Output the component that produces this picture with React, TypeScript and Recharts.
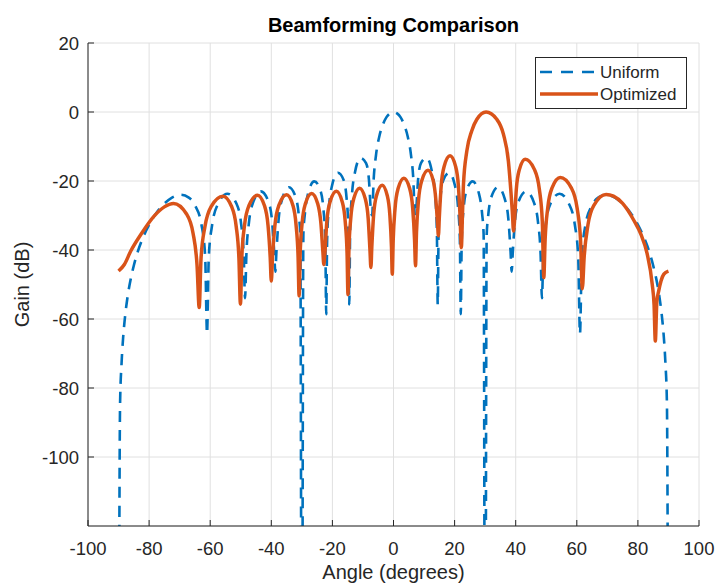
import { CartesianGrid, Label, Line, LineChart, XAxis, YAxis } from 'recharts';

const FONT = '"Liberation Sans", Arial, Helvetica, sans-serif';
const INK = '#262626';
const UNIFORM_COLOR = '#0072BD';
const OPTIMIZED_COLOR = '#D95319';

const xTicks = [-100, -80, -60, -40, -20, 0, 20, 40, 60, 80, 100];
const yTicks = [-100, -80, -60, -40, -20, 0, 20];

// [angle in degrees, gain in dB]
const uniformPattern: [number, number][] = [
    [-90, -200], [-89.5, -84.5], [-89, -72.6], [-88.5, -65.4], [-88, -60.4], [-87, -53.3], [-86, -48.3],
    [-85, -44.5], [-84, -41.3], [-82, -36.4], [-80.06, -32.8], [-77.5, -29.1], [-75.6, -27.1], [-72.5, -24.8],
    [-69.64, -24.0], [-67, -24.8], [-65, -27.0], [-62.87, -32.6], [-61.64, -42.0], [-61.04, -64.3],
    [-60.46, -41.9], [-59.32, -32.5], [-57.53, -26.8], [-54.34, -23.7], [-51.38, -26.6], [-49.91, -32.2],
    [-49.03, -41.5], [-48.59, -54.0], [-48.16, -41.4], [-47.31, -32.0], [-45.95, -26.2], [-43.43, -23.0],
    [-41.01, -25.8], [-39.79, -31.3], [-39.05, -40.6], [-38.68, -46.3], [-38.32, -40.5], [-37.59, -31.0],
    [-36.42, -25.2], [-34.23, -21.8], [-32.09, -24.5], [-31, -30.0], [-30.5, -35.7], [-30, -200],
    [-29.5, -35.4], [-29.01, -29.5], [-27.95, -23.6], [-25.94, -20.1], [-23.97, -22.6], [-22.95, -28.0],
    [-22.33, -37.1], [-22.02, -58.6], [-21.72, -36.9], [-21.1, -27.3], [-20.11, -21.3], [-18.21, -17.6],
    [-16.33, -19.7], [-15.37, -24.9], [-14.77, -33.9], [-14.48, -55.8], [-14.18, -33.6], [-13.59, -23.9],
    [-12.64, -17.6], [-10.81, -13.3], [-8.99, -14.8], [-8.05, -19.5], [-7.5, -27.4], [-7, -30],
    [-6.5, -19.7], [-5.74, -12.6], [-4.59, -6.9], [-3.44, -3.6], [-2.29, -1.5], [-1.15, -0.4],
    [0, 0],
    [1.15, -0.4], [2.29, -1.5], [3.44, -3.6], [4.59, -6.9], [5.74, -12.6], [6.5, -19.7], [7, -30],
    [7.5, -27.4], [8.05, -19.5], [8.99, -14.8], [10.81, -13.3], [12.64, -17.6], [13.59, -23.9],
    [14.18, -33.6], [14.48, -55.8], [14.77, -33.9], [15.37, -24.9], [16.33, -19.7], [18.21, -17.6],
    [20.11, -21.3], [21.1, -27.3], [21.72, -36.9], [22.02, -58.6], [22.33, -37.1], [22.95, -28.0],
    [23.97, -22.6], [25.94, -20.1], [27.95, -23.6], [29.01, -29.5], [29.5, -35.4], [30, -200],
    [30.5, -35.7], [31, -30.0], [32.09, -24.5], [34.23, -21.8], [36.42, -25.2], [37.59, -31.0],
    [38.32, -40.5], [38.68, -46.3], [39.05, -40.6], [39.79, -31.3], [41.01, -25.8], [43.43, -23.0],
    [45.95, -26.2], [47.31, -32.0], [48.16, -41.4], [48.59, -54.0], [49.03, -41.5], [49.91, -32.2],
    [51.38, -26.6], [54.34, -23.7], [57.53, -26.8], [59.32, -32.5], [60.46, -41.9], [61.04, -64.3],
    [61.64, -42.0], [62.87, -32.6], [65, -27.0], [67, -24.8], [69.64, -24.0], [72.5, -24.8], [75.6, -27.1],
    [77.5, -29.1], [80.06, -32.8], [82, -36.4], [84, -41.3], [85, -44.5], [86, -48.3], [87, -53.3],
    [88, -60.4], [88.5, -65.4], [89, -72.6], [89.5, -84.5], [90, -200],
];

const optimizedPattern: [number, number][] = [
    [-90, -46.1], [-88.1, -44.2], [-86, -40.3], [-82.7, -35.5], [-78.3, -30.1], [-75, -27.5], [-72, -26.5],
    [-67.8, -29.5], [-65.6, -35.2], [-64.3, -44.5], [-63.6, -56.7],
    [-63, -42.4], [-61.7, -33.1], [-59.7, -27.4], [-55.8, -24.4], [-53, -27.4], [-51.5, -33.1], [-50.6, -42.4],
    [-50.1, -55.7],
    [-49.65, -42.1], [-48.76, -32.8], [-47.3, -27.1], [-44.5, -24.1], [-42.25, -27.1], [-41.08, -32.8],
    [-40.36, -42.1], [-40, -49],
    [-39.6, -42], [-38.8, -32.7], [-37.5, -27], [-35, -24], [-32.95, -27], [-31.9, -32.7], [-31.23, -42],
    [-30.9, -53.3],
    [-30.57, -41.6], [-29.92, -32.3], [-28.85, -26.6], [-26.8, -23.6], [-24.8, -26.6], [-23.76, -32.3],
    [-23.12, -40.5], [-22.8, -44.2],
    [-22.47, -41], [-21.82, -31.7], [-20.75, -26], [-18.7, -23], [-16.8, -26], [-15.81, -31.7], [-15.2, -41],
    [-14.9, -52.9],
    [-14.6, -40.1], [-13.99, -30.8], [-13, -25.1], [-11.1, -22.1], [-9.25, -25.1], [-8.29, -30.8],
    [-7.7, -40.1], [-7.4, -45.1],
    [-7.1, -39.2], [-6.51, -29.9], [-5.55, -24.2], [-3.7, -21.2], [-2.05, -24.2], [-1.19, -29.9],
    [-0.66, -39.2], [-0.4, -47],
    [-0.1, -37.2], [0.51, -27.9], [1.5, -22.2], [3.4, -19.2], [5.3, -22.2], [6.29, -27.9], [6.9, -37.2],
    [7.2, -44.6],
    [7.53, -34.9], [8.18, -25.6], [9.25, -19.9], [11.3, -16.9], [13, -19.9], [13.88, -25.6], [14.43, -32.5],
    [14.7, -35.9],
    [15, -30.5], [15.61, -21.4], [16.6, -15.7], [18.5, -12.7], [20.3, -15.7], [21.24, -21.4], [21.81, -30.7],
    [22.2, -39.3],
    [22.6, -29], [22.9, -21], [24, -11.3], [25.6, -5.5], [27.3, -2.1], [30.3, 0], [33.8, -2.1], [36, -6.5],
    [37.6, -14.2], [38.5, -23.9], [38.9, -29], [39.3, -34.5],
    [39.6, -31.7], [40.2, -22.4], [41.2, -16.7], [43.1, -13.7], [46.15, -16.7], [47.74, -22.4],
    [48.71, -31.7], [49.2, -48],
    [49.63, -37], [50.5, -27.7], [51.9, -22], [54.6, -19], [58.2, -22], [60.07, -27.7], [61.22, -37],
    [61.8, -51.2],
    [62.42, -41.9], [63.67, -32.6], [65.7, -26.9], [69.6, -23.9], [72, -24.4], [75, -26.5], [78.6, -31.3],
    [81, -35.5], [83, -41], [84.7, -50], [85.3, -56], [85.7, -66.4], [86.2, -55], [86.8, -51.9], [88.5, -47],
    [90, -46.1],
];

const seriesNames = ['Uniform', 'Optimized'];

const toRows = (pattern: [number, number][]) => pattern.map(([angle, gain]) => ({ angle, gain }));

const uniformData = toRows(uniformPattern);
const optimizedData = toRows(optimizedPattern);

const tickStyle = { fill: INK, fontSize: 18.5, fontFamily: FONT };
const labelStyle = { fill: INK, fontSize: 20, fontFamily: FONT };

function LegendBox() {
    return (
        <svg width={153} height={53} style={{ position: 'absolute', left: 535, top: 57 }}>
            <rect x={0.5} y={0.5} width={151} height={51} fill="#fff" stroke={INK} strokeWidth={1} />
            <line x1={5} y1={15} x2={63} y2={15} stroke={UNIFORM_COLOR} strokeWidth={2.5} strokeDasharray="12 9" />
            <text x={65} y={15} dominantBaseline="central" fontSize={17} fontFamily={FONT} fill={INK}>
                {seriesNames[0]}
            </text>
            <line x1={5} y1={37} x2={63} y2={37} stroke={OPTIMIZED_COLOR} strokeWidth={3.5} />
            <text x={65} y={37} dominantBaseline="central" fontSize={17} fontFamily={FONT} fill={INK}>
                {seriesNames[1]}
            </text>
        </svg>
    );
}

export default function App() {
    return (
        <div style={{ position: 'absolute', left: 0, top: 0, width: 717, height: 584, background: '#fff' }}>
            <div
                style={{
                    position: 'absolute',
                    left: 88,
                    width: 611,
                    top: 14,
                    textAlign: 'center',
                    fontFamily: FONT,
                    fontWeight: 'bold',
                    fontSize: 20,
                    lineHeight: '22px',
                    color: '#000',
                }}
            >
                Beamforming Comparison
            </div>
            <LineChart width={717} height={584} margin={{ top: 43, right: 18, bottom: 0, left: 0 }}>
                <CartesianGrid stroke="#e0e0e0" strokeWidth={1} />
                <Line
                    data={uniformData}
                    dataKey="gain"
                    name={seriesNames[0]}
                    type="monotone"
                    stroke={UNIFORM_COLOR}
                    strokeWidth={2.6}
                    strokeDasharray="11 8"
                    dot={false}
                    activeDot={false}
                    isAnimationActive={false}
                />
                <Line
                    data={optimizedData}
                    dataKey="gain"
                    name={seriesNames[1]}
                    type="monotone"
                    stroke={OPTIMIZED_COLOR}
                    strokeWidth={3.5}
                    dot={false}
                    activeDot={false}
                    isAnimationActive={false}
                />
                <XAxis
                    dataKey="angle"
                    type="number"
                    domain={[-100, 100]}
                    ticks={xTicks}
                    interval={0}
                    height={58}
                    tickSize={-6}
                    tickMargin={22}
                    stroke={INK}
                    tick={tickStyle}
                >
                    <Label value="Angle (degrees)" position="insideBottom" offset={5} style={labelStyle} />
                </XAxis>
                <XAxis
                    xAxisId="top"
                    orientation="top"
                    type="number"
                    domain={[-100, 100]}
                    ticks={xTicks}
                    interval={0}
                    height={0}
                    tickSize={-6}
                    tick={false}
                    stroke={INK}
                />
                <YAxis
                    type="number"
                    domain={[-120, 20]}
                    ticks={yTicks}
                    interval={0}
                    allowDataOverflow
                    width={88}
                    tickSize={-6}
                    tickMargin={15}
                    stroke={INK}
                    tick={tickStyle}
                >
                    <Label
                        value="Gain (dB)"
                        angle={-90}
                        position="insideLeft"
                        offset={22}
                        style={{ ...labelStyle, textAnchor: 'middle' }}
                    />
                </YAxis>
                <YAxis
                    yAxisId="right"
                    orientation="right"
                    type="number"
                    domain={[-120, 20]}
                    ticks={yTicks}
                    interval={0}
                    width={0}
                    tickSize={-6}
                    tick={false}
                    stroke={INK}
                />
            </LineChart>
            <LegendBox />
        </div>
    );
}
